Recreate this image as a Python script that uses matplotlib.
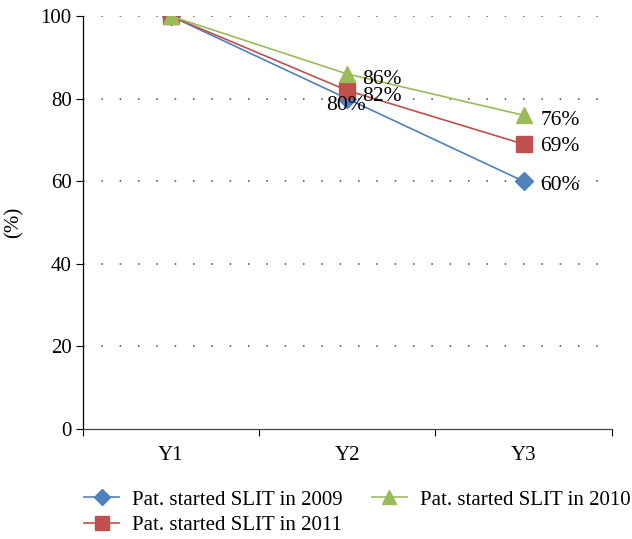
import matplotlib
matplotlib.use("Agg")
import matplotlib.pyplot as plt
from matplotlib.ticker import FixedLocator

categories = ["Y1", "Y2", "Y3"]
s2009 = [100, 80, 60]
s2011 = [100, 82, 69]
s2010 = [100, 86, 76]
yticks = [0, 20, 40, 60, 80, 100]

plt.rcParams['font.family'] = ['Liberation Serif', 'DejaVu Serif']

fig = plt.figure(figsize=(6.32, 5.39), dpi=100)
ax = fig.add_axes([0.131, 0.204, 0.837, 0.766])

x = [0, 1, 2]
c_blue = "#4F81BD"
c_red = "#C0504D"
c_green = "#9BBB59"

l1, = ax.plot(x, s2009, color=c_blue, marker="D", markersize=9, lw=1.2, label="Pat. started SLIT in 2009", zorder=3)
l3, = ax.plot(x, s2011, color=c_red, marker="s", markersize=11.5, lw=1.2, label="Pat. started SLIT in 2011", zorder=4)
l2, = ax.plot(x, s2010, color=c_green, marker="^", markersize=11, lw=1.2, label="Pat. started SLIT in 2010", zorder=5)

fs = 15.5
ax.annotate(f"{s2010[1]}%", (1, s2010[1]), xytext=(11, -4), textcoords="offset points", va="center", ha="left", fontsize=fs, zorder=6)
ax.annotate(f"{s2011[1]}%", (1, s2011[1]), xytext=(11, -4), textcoords="offset points", va="center", ha="left", fontsize=fs, zorder=6)
ax.annotate(f"{s2009[1]}%", (1, s2009[1]), xytext=(-1, -5), textcoords="offset points", va="center", ha="center", fontsize=fs, zorder=6)
ax.annotate(f"{s2010[2]}%", (2, s2010[2]), xytext=(12, -4), textcoords="offset points", va="center", ha="left", fontsize=fs, zorder=6)
ax.annotate(f"{s2011[2]}%", (2, s2011[2]), xytext=(12, -2), textcoords="offset points", va="center", ha="left", fontsize=fs, zorder=6)
ax.annotate(f"{s2009[2]}%", (2, s2009[2]), xytext=(12, -3), textcoords="offset points", va="center", ha="left", fontsize=fs, zorder=6)

ax.set_xlim(-0.5, 2.5)
ax.set_ylim(0, 100)
ax.set_yticks(yticks)
ax.set_xticks(x)
ax.set_xticklabels(categories)
ax.xaxis.set_minor_locator(FixedLocator([-0.5, 0.5, 1.5, 2.5]))
ax.tick_params(axis="x", which="major", length=0, pad=12, labelsize=15)
ax.tick_params(axis="x", which="minor", length=5, direction="out", width=0.8)
ax.tick_params(axis="y", length=5, direction="out", width=0.8, labelsize=15, pad=3)

for v in yticks[1:]:
    ax.axhline(v, color="#444444", lw=1.1, linestyle=(0, (1, 11)), zorder=1)

for s in ["top", "right"]:
    ax.spines[s].set_visible(False)
ax.spines["left"].set_linewidth(0.9)
ax.spines["bottom"].set_linewidth(0.9)
ax.spines["bottom"].set_color("#444444")

ax.set_ylabel("(%)", fontsize=15, labelpad=12)

fig.legend(handles=[l1, l3, l2], loc="upper left", bbox_to_anchor=(84 / 632, 1 - 490 / 539), ncol=2,
           frameon=False, fontsize=15, handlelength=1.7, columnspacing=1.4,
           labelspacing=0.3, handletextpad=0.6, borderaxespad=0, borderpad=0,
           markerscale=0.9)

fig.savefig("out.png", dpi=100)
